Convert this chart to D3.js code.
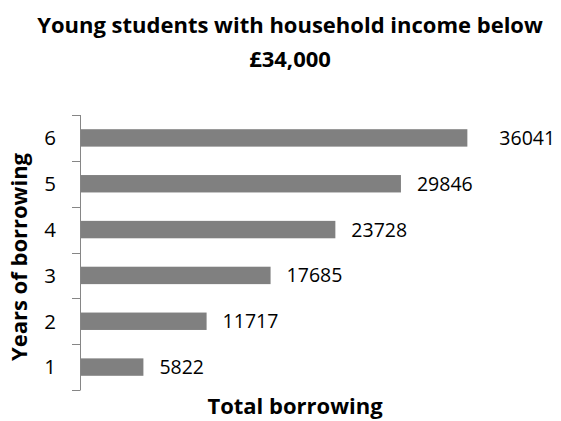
<!DOCTYPE html>
<html>
<head>
<meta charset="utf-8">
<script src="https://cdn.jsdelivr.net/npm/d3@7"></script>
<style>
  html, body { margin: 0; padding: 0; background: #fff; }
  svg { display: block; }
  text { font-family: "Open Sans", Calibri, Arial, sans-serif; fill: #000; }
</style>
</head>
<body>
<svg id="chart" width="561" height="421"></svg>
<script>
const categories = ["1", "2", "3", "4", "5", "6"];
const values = [5822, 11717, 17685, 23728, 29846, 36041];
const titleLines = ["Young students with household income below", "£34,000"];
const xTitle = "Total borrowing";
const yTitle = "Years of borrowing";

const svg = d3.select("#chart");
const plot = { left: 80, top: 115, bottom: 390 };

const y = d3.scaleBand()
  .domain(categories.slice().reverse())
  .range([plot.top, plot.bottom])
  .paddingInner(0.62)
  .paddingOuter(0.31);

const x = d3.scaleLinear()
  .domain([0, 40000])
  .range([plot.left + 1, plot.left + 1 + 0.01072 * 40000]);

// Title
svg.append("text")
  .attr("text-anchor", "middle")
  .style("font-weight", "bold").style("font-size", "22px")
  .selectAll("tspan").data(titleLines).join("tspan")
  .attr("x", 290).attr("y", (d, i) => 33 + i * 34)
  .text(d => d);

// Bars
svg.append("g").selectAll("rect").data(values).join("rect")
  .attr("x", x(0))
  .attr("y", (d, i) => y(categories[i]))
  .attr("width", d => x(d) - x(0))
  .attr("height", y.bandwidth())
  .attr("fill", "#808080");

// Value labels
const maxV = d3.max(values);
svg.append("g").selectAll("text").data(values).join("text")
  .attr("x", d => x(d) + (d === maxV ? 32 : 16))
  .attr("y", (d, i) => y(categories[i]) + y.bandwidth() / 2)
  .attr("dy", "0.36em")
  .style("font-size", "19.5px")
  .text(d => d);

// Y axis: line with ticks at band boundaries
const axisG = svg.append("g");
const boundaries = d3.range(categories.length + 1).map(i => plot.top + i * (plot.bottom - plot.top) / categories.length);
axisG.append("line")
  .attr("x1", plot.left + 0.5).attr("x2", plot.left + 0.5)
  .attr("y1", plot.top).attr("y2", plot.bottom)
  .attr("stroke", "#868686").attr("stroke-width", 1);
axisG.selectAll("line.tick").data(boundaries).join("line")
  .attr("class", "tick")
  .attr("x1", plot.left - 8).attr("x2", plot.left + 0.5)
  .attr("y1", d => Math.round(d) + 0.5).attr("y2", d => Math.round(d) + 0.5)
  .attr("stroke", "#868686").attr("stroke-width", 1);
axisG.selectAll("text").data(categories).join("text")
  .attr("x", plot.left - 24)
  .attr("y", d => y(d) + y.bandwidth() / 2)
  .attr("dy", "0.36em")
  .attr("text-anchor", "end")
  .style("font-size", "20.5px")
  .text(d => d);

// Axis titles
svg.append("text")
  .attr("x", 295).attr("y", 414)
  .attr("text-anchor", "middle")
  .style("font-weight", "bold").style("font-size", "22px")
  .text(xTitle);

svg.append("text")
  .attr("transform", "translate(27,257) rotate(-90)")
  .attr("text-anchor", "middle")
  .style("font-weight", "bold").style("font-size", "22px")
  .text(yTitle);
</script>
</body>
</html>
